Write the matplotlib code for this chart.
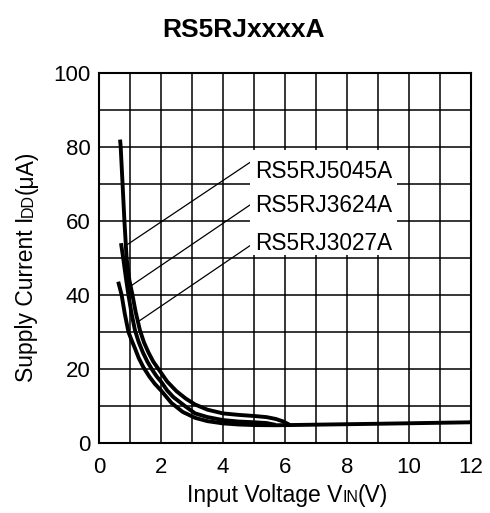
import numpy as np
import matplotlib.pyplot as plt
from matplotlib.patches import Rectangle
from matplotlib.transforms import IdentityTransform

plt.rcParams['font.family'] = ['Liberation Sans', 'DejaVu Sans']

# curves (VIN in V, IDD in uA)
x_5045 = [0.68, 0.70, 0.76, 0.82, 0.89, 0.98, 1.08, 1.18, 1.32, 1.45, 1.60, 1.75, 1.95,
          2.20, 2.50, 2.80, 3.10, 3.50, 4.00, 4.50, 5.00, 5.40, 5.70, 5.95, 6.16]
y_5045 = [82.0, 80.0, 70.0, 60.0, 50.0, 44.0, 40.0, 35.5, 30.5, 27.2, 24.4, 22.0, 19.6,
          16.6, 14.0, 12.0, 10.4, 9.0, 8.0, 7.6, 7.3, 7.0, 6.5, 5.8, 4.85]

x_3624 = [0.71, 0.78, 0.87, 0.95, 1.05, 1.16, 1.28, 1.42, 1.56, 1.70, 1.86, 2.00, 2.20,
          2.40, 2.77, 3.10, 3.50, 4.00, 4.50, 5.00, 5.40, 5.70]
y_3624 = [54.0, 50.0, 44.5, 40.0, 35.0, 30.5, 27.3, 24.4, 22.0, 20.0, 18.0, 16.6, 14.2,
          12.4, 10.0, 8.0, 7.0, 6.2, 5.8, 5.6, 5.4, 4.9]

x_3027 = [0.62, 0.73, 0.83, 0.95, 1.05, 1.15, 1.28, 1.43, 1.62, 1.80, 2.00, 2.34, 2.70,
          3.10, 3.50, 4.00, 4.50, 5.00, 5.70, 6.16, 9.00, 12.0]
y_3027 = [43.6, 40.0, 35.0, 30.0, 27.8, 25.8, 23.0, 20.5, 18.0, 16.0, 14.2, 10.8, 8.4,
          6.8, 5.9, 5.3, 5.0, 4.85, 4.8, 4.85, 5.2, 5.6]

labels = ['RS5RJ5045A', 'RS5RJ3624A', 'RS5RJ3027A']
label_y = [71.6, 62.5, 52.2]
leader_x = [0.89, 1.02, 1.30]
leader_y = [53.5, 42.4, 33.0]
leader_end_y = [76.0, 64.5, 53.5]

fig = plt.figure(figsize=(4.9, 5.13), dpi=100)
ax = fig.add_axes([99 / 490, 1 - 443 / 513, 372 / 490, 370 / 513])

ax.set_xlim(0, 12)
ax.set_ylim(0, 100)
ax.set_xticks(np.arange(0, 13, 2))
ax.set_xticks(np.arange(0, 13, 1), minor=True)
ax.set_yticks(np.arange(0, 101, 20))
ax.set_yticks(np.arange(0, 101, 10), minor=True)
ax.grid(which='both', color='black', linewidth=1.1, zorder=0.5)
ax.set_axisbelow(True)
ax.tick_params(which='both', length=0, labelsize=16)
ax.tick_params(axis='x', pad=10)
ax.tick_params(axis='y', pad=6)
for s in ax.spines.values():
    s.set_linewidth(1.5)

# leader lines, then white box for the part names
for lx, ly, ey in zip(leader_x, leader_y, leader_end_y):
    ax.plot([lx, 4.9], [ly, ey], color='black', lw=0.9, zorder=2)
ax.add_patch(Rectangle((4.87, 50.8), 4.73, 28.4, facecolor='white', edgecolor='none', zorder=2.5))
for name, yy in zip(labels, label_y):
    ax.text(5.04, yy, name, fontsize=16.3, va='baseline', ha='left', zorder=4)

for xs, ys in [(x_5045, y_5045), (x_3624, y_3624), (x_3027, y_3027)]:
    ax.plot(xs, ys, color='black', lw=2.8, solid_joinstyle='round',
            solid_capstyle='butt', zorder=3)

fig.text(0.496, 1 - 30 / 513, 'RS5RJxxxxA', ha='center', va='center',
         fontsize=19, fontweight='bold')


def rich_label(parts, cx, cy, rotation=0):
    # text pieces of mixed size sharing one baseline, centred at (cx, cy) in pixels
    r = fig.canvas.get_renderer()
    widths = []
    for s, size in parts:
        t = fig.text(0, 0, s, fontsize=size)
        widths.append(t.get_window_extent(r).width)
        t.remove()
    ang = np.deg2rad(rotation)
    pos = -sum(widths) / 2
    for (s, size), w in zip(parts, widths):
        fig.text(cx + pos * np.cos(ang), cy + pos * np.sin(ang), s, fontsize=size,
                 rotation=rotation, rotation_mode='anchor', ha='left', va='baseline',
                 transform=IdentityTransform())
        pos += w


rich_label([('Input Voltage V', 16.5), ('IN', 11.5), ('(V)', 16.5)], 287.5, 11.3)
rich_label([('Supply Current I', 16.5), ('DD', 11.5), ('(μA)', 16.5)], 33, 246.5, rotation=90)

fig.savefig('out.png', dpi=100)
